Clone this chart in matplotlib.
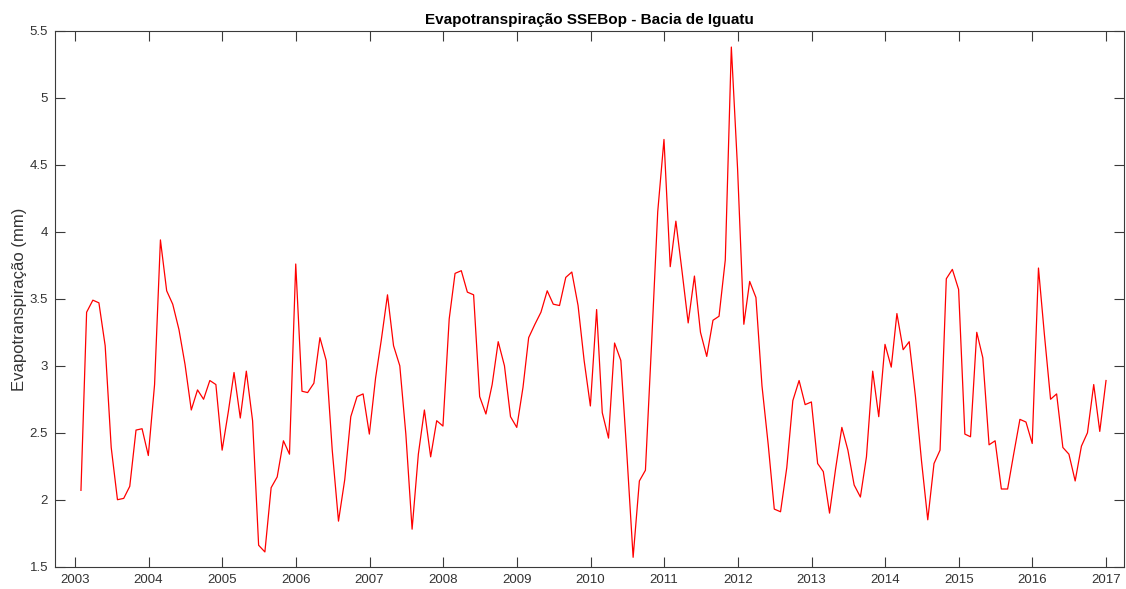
import matplotlib
matplotlib.use("Agg")
import matplotlib.pyplot as plt
import matplotlib.dates as mdates
from matplotlib.ticker import FuncFormatter
import pandas as pd
from datetime import datetime

# Monthly SSEBop evapotranspiration, Iguatu basin (Jan 2003 - Dec 2016, month ends)
start_month = "2003-01-31"
n_months = 168
et_2003 = [2.07, 3.40, 3.49, 3.47, 3.15, 2.39, 2.00, 2.01, 2.10, 2.52, 2.53, 2.33]
et_2004 = [2.86, 3.94, 3.56, 3.46, 3.27, 3.01, 2.67, 2.82, 2.75, 2.89, 2.86, 2.37]
et_2005 = [2.66, 2.95, 2.61, 2.96, 2.59, 1.66, 1.61, 2.09, 2.17, 2.44, 2.34, 3.76]
et_2006 = [2.81, 2.80, 2.87, 3.21, 3.04, 2.37, 1.84, 2.15, 2.62, 2.77, 2.79, 2.49]
et_2007 = [2.91, 3.19, 3.53, 3.15, 3.00, 2.49, 1.78, 2.34, 2.67, 2.32, 2.59, 2.55]
et_2008 = [3.35, 3.69, 3.71, 3.55, 3.53, 2.77, 2.64, 2.86, 3.18, 3.00, 2.62, 2.54]
et_2009 = [2.84, 3.21, 3.31, 3.40, 3.56, 3.46, 3.45, 3.66, 3.70, 3.45, 3.04, 2.70]
et_2010 = [3.42, 2.65, 2.46, 3.17, 3.04, 2.34, 1.57, 2.14, 2.22, 3.18, 4.15, 4.69]
et_2011 = [3.74, 4.08, 3.70, 3.32, 3.67, 3.25, 3.07, 3.34, 3.37, 3.79, 5.38, 4.47]
et_2012 = [3.31, 3.63, 3.51, 2.85, 2.41, 1.93, 1.91, 2.24, 2.74, 2.89, 2.71, 2.73]
et_2013 = [2.27, 2.21, 1.90, 2.23, 2.54, 2.37, 2.11, 2.02, 2.32, 2.96, 2.62, 3.16]
et_2014 = [2.99, 3.39, 3.12, 3.18, 2.77, 2.29, 1.85, 2.27, 2.37, 3.65, 3.72, 3.57]
et_2015 = [2.49, 2.47, 3.25, 3.06, 2.41, 2.44, 2.08, 2.08, 2.34, 2.60, 2.58, 2.42]
et_2016 = [3.73, 3.24, 2.75, 2.79, 2.39, 2.34, 2.14, 2.40, 2.50, 2.86, 2.51, 2.89]

et_values = (et_2003 + et_2004 + et_2005 + et_2006 + et_2007 + et_2008 + et_2009
             + et_2010 + et_2011 + et_2012 + et_2013 + et_2014 + et_2015 + et_2016)
dates = pd.date_range(start_month, periods=n_months, freq="ME")

year_ticks = list(range(2003, 2018))
y_ticks = [1.5, 2, 2.5, 3, 3.5, 4, 4.5, 5, 5.5]

title_text = "Evapotranspiração SSEBop - Bacia de Iguatu"
ylabel_text = "Evapotranspiração (mm)"

plt.rcParams["font.family"] = ["Liberation Sans", "DejaVu Sans"]
axis_gray = "#3a3a3a"
text_gray = "#333333"

fig = plt.figure(figsize=(11.26, 5.89), dpi=100)
ax = fig.add_axes([0.0488, 0.0379, 0.9494, 0.9095])

ax.plot(dates, et_values, color="#ff0000", linewidth=0.9)

ax.set_xlim(datetime(2002, 9, 24), datetime(2017, 3, 30))
ax.set_ylim(1.5, 5.5)
ax.set_xticks([datetime(y, 1, 1) for y in year_ticks])
ax.xaxis.set_major_formatter(mdates.DateFormatter("%Y"))
ax.set_yticks(y_ticks)
ax.yaxis.set_major_formatter(FuncFormatter(lambda v, p: f"{v:g}"))

ax.tick_params(axis="both", direction="in", length=7.2, width=0.8,
               color=axis_gray, labelcolor=text_gray, labelsize=9.5,
               top=True, right=True, pad=5)
for s in ax.spines.values():
    s.set_color(axis_gray)
    s.set_linewidth(0.8)

ax.set_title(title_text, fontsize=11, fontweight="bold", color="#000000", pad=5)
ax.set_ylabel(ylabel_text, fontsize=12, color=text_gray, labelpad=2)

fig.savefig("out.png", dpi=100)
